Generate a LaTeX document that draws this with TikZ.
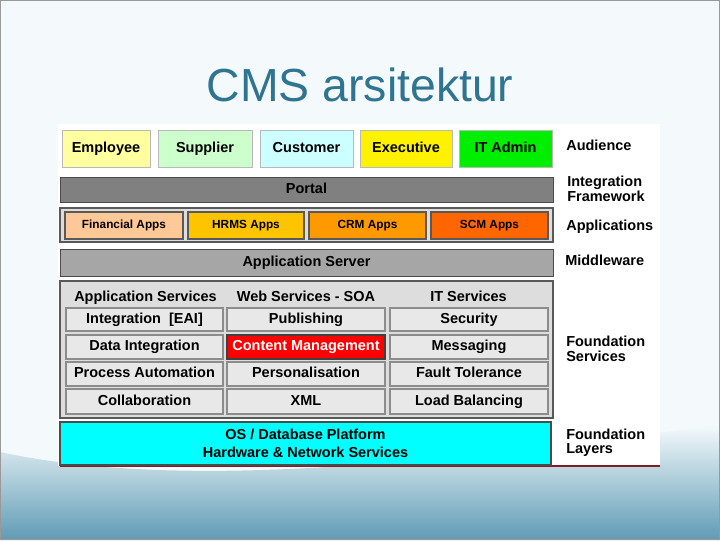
\documentclass[tikz,border=0pt]{standalone}
\usepackage{fontspec}
\setmainfont{Liberation Sans}
\usepackage{tikz}

\newcommand\px{0.025cm}
\newcommand\tf{\fontsize{10.3}{10.3}\selectfont\bfseries}

\definecolor{slidebg}{RGB}{244,250,252}
\definecolor{wave}{RGB}{95,155,180}
\definecolor{titleblue}{RGB}{47,117,145}
\definecolor{darkred}{RGB}{130,30,35}
\definecolor{pyellow}{RGB}{255,255,160}
\definecolor{pgreen}{RGB}{204,255,204}
\definecolor{pcyan}{RGB}{204,255,255}
\definecolor{lgreen}{RGB}{0,238,0}
\definecolor{portalgray}{RGB}{128,128,128}
\definecolor{srvgray}{RGB}{166,166,166}
\definecolor{framegray}{RGB}{221,221,221}
\definecolor{cellgray}{RGB}{232,232,232}
\definecolor{appfin}{RGB}{255,200,150}
\definecolor{apphr}{RGB}{255,196,0}
\definecolor{appcrm}{RGB}{255,153,0}
\definecolor{appscm}{RGB}{255,102,0}
\definecolor{osbg}{RGB}{0,255,255}

\tikzset{
 txt/.style={text height=7.6pt, text depth=2pt},
 aud/.style={draw=gray!55, fill=#1, inner sep=0pt, minimum height=37*\px, font=\tf, txt},
 bar/.style={draw=gray!60!black, fill=#1, inner sep=0pt, font=\tf, txt},
 frame/.style={draw=black!65, line width=1.5*\px, fill=framegray, inner sep=0pt},
 app/.style={draw=black!65, line width=1.5*\px, fill=#1, inner sep=0pt,
   minimum height=27*\px, font=\fontsize{8.4}{10}\selectfont\bfseries, text height=6.2pt, text depth=1.7pt},
 svc/.style={draw=black!45, line width=1.5*\px, fill=cellgray, inner sep=0pt, font=\tf, txt},
 cms/.style={draw=black!75, line width=1.5*\px, fill=red, text=white, inner sep=0pt, font=\tf, txt},
 hdr/.style={inner sep=0pt, font=\tf, txt},
 osbox/.style={draw=black!70, line width=1.5*\px, fill=osbg, inner sep=0pt, align=center,
   font=\fontsize{10.3}{12.8}\selectfont\bfseries},
 lbl/.style={anchor=west, align=left, inner sep=0pt, font=\tf}
}

\begin{document}
\begin{tikzpicture}[x=\px,y=-\px]
\useasboundingbox (0,0) rectangle (720,540);

% slide
\fill[slidebg] (0,0) rectangle (720,540);
\shade[top color=slidebg, bottom color=wave] (0,452) .. controls (200,495) and (480,455) .. (720,425) -- (720,540) -- (0,540) -- cycle;
\draw[gray!80] (0.5,0.5) rectangle (719.5,539.5);
\node[font=\fontsize{33}{36}\selectfont, text=titleblue] (title) at (360,85) {CMS arsitektur};
\fill[white] (58,124) rectangle (660,466);

% audience
\foreach \nm/\xa/\xb/\col/\txt in {emp/62/150/pyellow/Employee, sup/158/252/pgreen/Supplier,
  cus/260/353/pcyan/Customer, exe/360/452/yellow/Executive, ita/459/552/lgreen/IT Admin}
  \node[aud=\col, minimum width={(\xb-\xa)*\px}] (\nm) at ({(\xa+\xb)/2},148.5) {\txt};

% portal
\node[bar=portalgray, minimum width=493*\px, minimum height=25*\px] (portal) at (306.5,189.5) {Portal};

% applications
\node[frame, minimum width=493*\px, minimum height=34*\px] (appframe) at (306.5,225) {};
\foreach \nm/\xa/\xb/\col/\txt in {fin/65/183/appfin/Financial Apps, hrms/188/304/apphr/HRMS Apps,
  crm/309/426/appcrm/CRM Apps, scm/431/548/appscm/SCM Apps}
  \node[app=\col, minimum width={(\xb-\xa)*\px}] (\nm) at ({(\xa+\xb)/2},225.5) {\txt};

% middleware
\node[bar=srvgray, minimum width=493*\px, minimum height=27*\px] (appsrv) at (306.5,262.5) {Application Server};

% foundation services
\node[frame, minimum width=493*\px, minimum height=137*\px] (found) at (306.5,349.5) {};
\foreach \nm/\x/\txt in {hda/145.5/Application Services, hdb/306/Web Services - SOA, hdc/468.5/IT Services}
  \node[hdr] (\nm) at (\x,298) {\txt};
\foreach \r/\ya/\yb/\st/\ta/\tb/\tc in {1/308/331/svc/{Integration\ \ [EAI]}/Publishing/Security,
  2/335/359/cms/Data Integration/Content Management/Messaging,
  3/362/386/svc/Process Automation/Personalisation/Fault Tolerance,
  4/389/414/svc/Collaboration/XML/Load Balancing}
{
  \node[svc, minimum width=157*\px, minimum height={(\yb-\ya)*\px}] (s\r a) at (144.5,{(\ya+\yb)/2}) {\ta};
  \node[\st, minimum width=158*\px, minimum height={(\yb-\ya)*\px}] (s\r b) at (306,{(\ya+\yb)/2}) {\tb};
  \node[svc, minimum width=158*\px, minimum height={(\yb-\ya)*\px}] (s\r c) at (469,{(\ya+\yb)/2}) {\tc};
}

% foundation layers
\draw[darkred, line width=2*\px] (60,466) -- (660,466);
\node[osbox, minimum width=491*\px, minimum height=43*\px] (osbar) at (305.5,443.5)
  {OS / Database Platform\\Hardware \& Network Services};

% layer names
\node[lbl] (laud) at (566,145) {Audience};
\node[lbl] (lint) at (567,189) {Integration\\Framework};
\node[lbl] (lapp) at (566,227) {Applications};
\node[lbl] (lmid) at (565,260) {Middleware};
\node[lbl] (lfs) at (566,349) {Foundation\\Services};
\node[lbl] (lfl) at (566,442.5) {Foundation\\Layers};

\end{tikzpicture}
\end{document}
